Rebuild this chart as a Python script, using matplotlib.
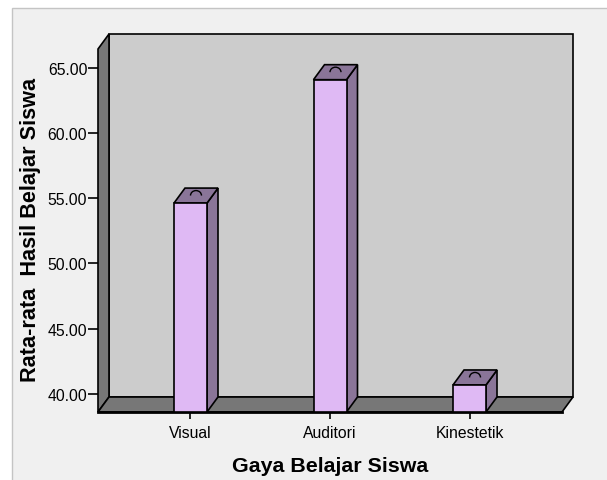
import numpy as np
import matplotlib
matplotlib.use("Agg")
import matplotlib.pyplot as plt
from matplotlib.patches import Polygon, Rectangle, Arc

categories = ["Visual", "Auditori", "Kinestetik"]
means = [54.62, 64.07, 40.69]
yticks = [40, 45, 50, 55, 60, 65]

W, H = 607, 481
plt.rcParams["font.family"] = ["Liberation Sans", "DejaVu Sans"]

fig = plt.figure(figsize=(W / 100, H / 100), dpi=100, facecolor="white")

# outer SPSS-style frame
fig.patches.append(Rectangle((12 / W, -0.01), 1.0, (H - 9) / H + 0.01,
                             transform=fig.transFigure, facecolor="#f0f0f0",
                             edgecolor="#c4c4c4", linewidth=1.0, zorder=-10))

# front plane of the 3d box, in pixels: x 98..562, y 50..413
ax = fig.add_axes([98 / W, (H - 413) / H, 464 / W, 363 / H])
ax.set_facecolor("none")
for s in ax.spines.values():
    s.set_visible(False)

xlo, xhi = -0.663, 2.663
ylo, yhi = 38.62, 66.42
ax.set_xlim(xlo, xhi)
ax.set_ylim(ylo, yhi)

# depth of the 3d effect, converted from pixels to data units
px_x = 464 / (xhi - xlo)
px_y = 363 / (yhi - ylo)
ddx = 11 / px_x
ddy = 15 / px_y

wall = "#777777"
back = "#cccccc"
front_col = "#dfb9f4"
side_col = "#8a7598"
lw = 1.2

def poly(pts, fc, z):
    p = Polygon(pts, closed=True, facecolor=fc, edgecolor="black",
                linewidth=lw, joinstyle="miter", clip_on=False, zorder=z)
    ax.add_patch(p)

# back wall, left wall, floor
poly([(xlo + ddx, ylo + ddy), (xhi + ddx, ylo + ddy), (xhi + ddx, yhi + ddy), (xlo + ddx, yhi + ddy)], back, 1)
poly([(xlo, ylo), (xlo + ddx, ylo + ddy), (xlo + ddx, yhi + ddy), (xlo, yhi)], wall, 2)
poly([(xlo, ylo), (xhi, ylo), (xhi + ddx, ylo + ddy), (xlo + ddx, ylo + ddy)], wall, 2)
ax.plot([xlo, xhi], [ylo, ylo], color="black", linewidth=2, clip_on=False, zorder=2.5)

# bars
bw = 33 / px_x
for i, v in enumerate(means):
    l, r = i - bw / 2, i + bw / 2
    poly([(r, ylo), (r + ddx, ylo + ddy), (r + ddx, v + ddy), (r, v)], side_col, 3)
    poly([(l, v), (r, v), (r + ddx, v + ddy), (l + ddx, v + ddy)], side_col, 3)
    poly([(l, ylo), (r, ylo), (r, v), (l, v)], front_col, 3)
    ax.add_patch(Arc((i + ddx / 2, v + ddy / 2), 11 / px_x, 10 / px_y,
                     theta1=0, theta2=180, color="black", linewidth=1.0,
                     clip_on=False, zorder=4))

ax.set_yticks(yticks)
ax.set_yticklabels([f"{t:.2f}" for t in yticks])
ax.set_xticks(range(len(categories)))
ax.set_xticklabels(categories)
ax.tick_params(axis="y", length=7.2, width=1.2, pad=0.5, labelsize=11.3, colors="black")
ax.tick_params(axis="x", length=5, width=1.2, pad=4.5, labelsize=11.3, colors="black")

fig.text(330 / W, 1 - 467 / H, "Gaya Belajar Siswa", ha="center", va="center",
         fontsize=15.4, fontweight="bold")
fig.text(31 / W, 1 - 230 / H, "Rata-rata  Hasil Belajar Siswa", ha="center", va="center",
         rotation=90, fontsize=15.6, fontweight="bold")

fig.savefig("out.png", dpi=100)
